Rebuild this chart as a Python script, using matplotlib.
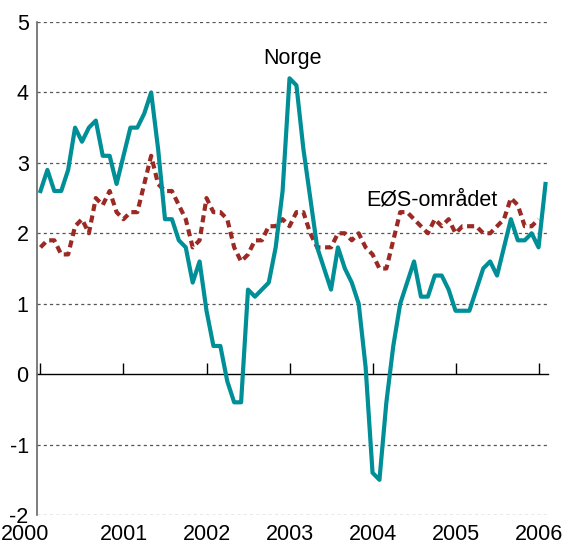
import matplotlib
matplotlib.use('Agg')
import matplotlib.pyplot as plt
import numpy as np

plt.rcParams['font.family'] = ['Liberation Sans', 'DejaVu Sans']
plt.rcParams['font.size'] = 15.5
plt.rcParams['axes.unicode_minus'] = False

# monthly data, Jan 2000 onwards (12-month change, percent)
start_year = 2000
norge = [2.6, 2.9, 2.6, 2.6, 2.9, 3.5, 3.3, 3.5, 3.6, 3.1, 3.1, 2.7,
         3.1, 3.5, 3.5, 3.7, 4.0, 3.2, 2.2, 2.2, 1.9, 1.8, 1.3, 1.6,
         0.9, 0.4, 0.4, -0.1, -0.4, -0.4, 1.2, 1.1, 1.2, 1.3, 1.8, 2.6,
         4.2, 4.1, 3.2, 2.5, 1.8, 1.5, 1.2, 1.8, 1.5, 1.3, 1.0, 0.1,
         -1.4, -1.5, -0.4, 0.4, 1.0, 1.3, 1.6, 1.1, 1.1, 1.4, 1.4, 1.2,
         0.9, 0.9, 0.9, 1.2, 1.5, 1.6, 1.4, 1.8, 2.2, 1.9, 1.9, 2.0,
         1.8, 2.7]
eos = [1.8, 1.9, 1.9, 1.7, 1.7, 2.1, 2.2, 2.0, 2.5, 2.4, 2.6, 2.3,
       2.2, 2.3, 2.3, 2.7, 3.1, 2.7, 2.6, 2.6, 2.4, 2.2, 1.8, 1.9,
       2.5, 2.3, 2.3, 2.2, 1.8, 1.6, 1.7, 1.9, 1.9, 2.1, 2.1, 2.2,
       2.1, 2.3, 2.3, 2.0, 1.8, 1.8, 1.8, 2.0, 2.0, 1.9, 2.0, 1.8,
       1.7, 1.5, 1.5, 1.9, 2.3, 2.3, 2.2, 2.1, 2.0, 2.2, 2.1, 2.2,
       2.0, 2.1, 2.1, 2.1, 2.0, 2.0, 2.1, 2.2, 2.5, 2.4, 2.1, 2.1,
       2.2]
years = [2000, 2001, 2002, 2003, 2004, 2005, 2006]
yticks = [-2, -1, 0, 1, 2, 3, 4, 5]

x_norge = start_year + np.arange(len(norge)) / 12
x_eos = start_year + np.arange(len(eos)) / 12

fig = plt.figure(figsize=(5.63, 5.44), dpi=100)
ax = fig.add_axes([0.0657, 0.0533, 0.9077, 0.9063])

for y in yticks:
    if y != 0:
        ax.axhline(y, color='#555555', lw=0.9, ls=(0, (2.5, 2.5)), zorder=1)

ax.plot(x_eos, eos, color='#9B2A24', lw=3.0, ls=(0, (1.7, 1.1)), zorder=3)
ax.plot(x_norge, norge, color='#008F97', lw=3.0, zorder=4)

ax.set_xlim(1999.958, 2006.114)
ax.set_ylim(-2, 5)

ax.spines['top'].set_visible(False)
ax.spines['right'].set_visible(False)
ax.spines['left'].set_color('#666666')
ax.spines['left'].set_linewidth(1.2)
ax.spines['bottom'].set_position(('data', 0))
ax.spines['bottom'].set_color('black')
ax.spines['bottom'].set_linewidth(1.0)
ax.spines['bottom'].set_zorder(2)

ax.set_xticks(years)
ax.tick_params(axis='x', direction='in', length=8, width=1.0, labelbottom=False)
ax.set_yticks(yticks)
ax.tick_params(axis='y', length=0, pad=6)

# year labels below the plot; the first one is pushed left against the edge
secax = ax.secondary_xaxis('bottom')
secax.set_xticks(years, labels=[''] + [str(y) for y in years[1:]])
secax.tick_params(length=0, pad=6.5)
secax.spines['bottom'].set_visible(False)
ax.annotate(str(years[0]), xy=(0, 0), xycoords=('figure fraction', 'axes fraction'),
            xytext=(0.5, -6.5), textcoords='offset points', ha='left', va='top')

ax.text(2003.04, 4.48, 'Norge', ha='center', va='center')
ax.text(2004.72, 2.47, 'EØS-området', ha='center', va='center')

plt.savefig('out.png', dpi=100)
